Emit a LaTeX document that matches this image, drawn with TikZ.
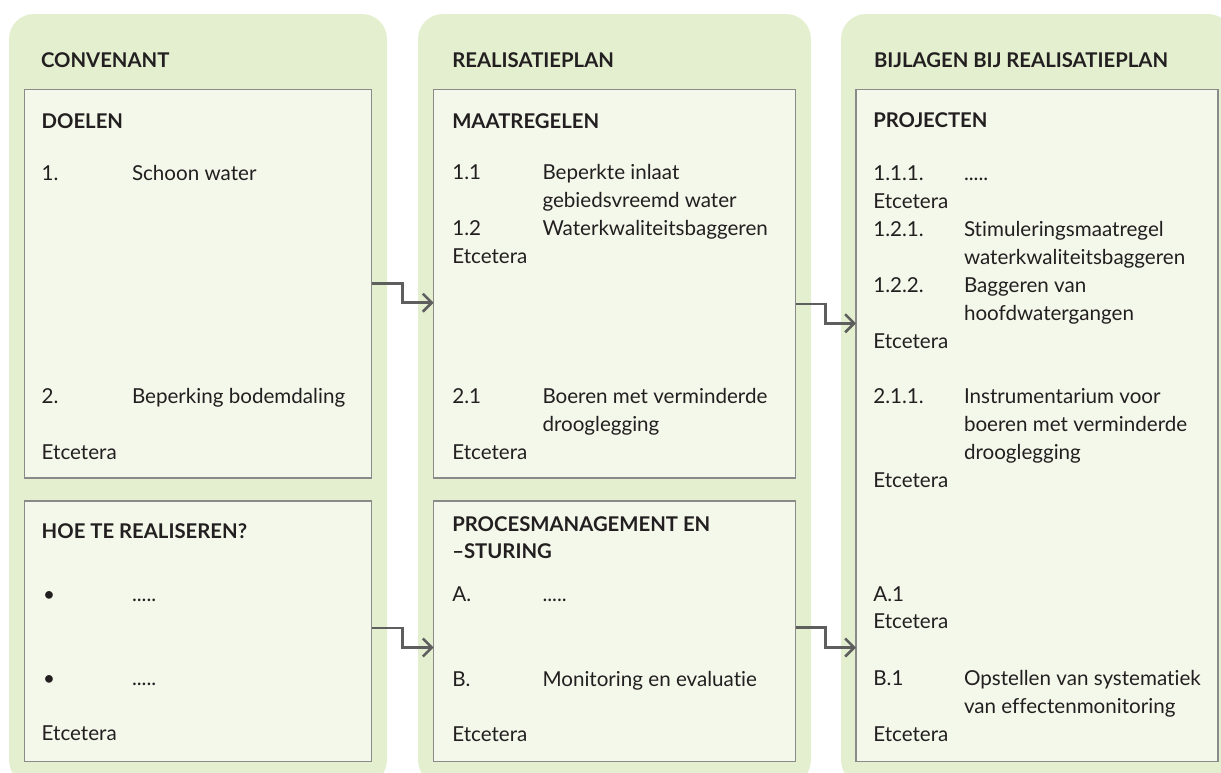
\documentclass[tikz,border=0pt]{standalone}
\usepackage{fontspec}
\setmainfont{Lato}[Ligatures={NoCommon,NoContextual}]
\usetikzlibrary{arrows.meta,calc}
\definecolor{colbg}{HTML}{E3EFCF}
\definecolor{boxbg}{HTML}{F3F8EA}
\definecolor{boxline}{HTML}{8A8A8A}
\definecolor{conncol}{HTML}{5E5E5E}
\definecolor{txtcol}{HTML}{231F20}
\begin{document}
\begin{tikzpicture}[x=1pt,y=-1pt,
  colbox/.style={fill=colbg, rounded corners=25pt, anchor=north west, inner sep=0pt, outer sep=0pt},
  inbox/.style={fill=boxbg, draw=boxline, line width=1.3pt, anchor=north west, inner sep=0pt, outer sep=0pt},
  tx/.style={anchor=base west, inner sep=0pt, outer sep=0pt, text=txtcol, font=\fontsize{20.6}{24}\selectfont},
  ttl/.style={tx, font=\fontsize{20.3}{24}\selectfont\bfseries},
  conn/.style={draw=conncol, line width=2.6pt, -{Straight Barb[length=9pt,width=18pt]}}]
\useasboundingbox (0,0) rectangle (1221,772);
\clip (0,0) rectangle (1221,772);
% columns
\node[colbox, minimum width=378pt, minimum height=771pt] (c1) at (9,14) {};
\node[colbox, minimum width=393pt, minimum height=771pt] (c2) at (418,14) {};
\node[colbox, minimum width=392pt, minimum height=771pt] (c3) at (841,14) {};
% inner boxes
\node[inbox, minimum width=347pt, minimum height=388.5pt] (b1) at (24.5,89.5) {};
\node[inbox, minimum width=347pt, minimum height=260.7pt] (b2) at (24.5,501) {};
\node[inbox, minimum width=362pt, minimum height=388.5pt] (b3) at (433.7,89.5) {};
\node[inbox, minimum width=362pt, minimum height=260.7pt] (b4) at (433.7,501) {};
\node[inbox, minimum width=362pt, minimum height=672.2pt] (b5) at (856,89.5) {};
% connectors
\draw[conn] ($(b1.north east)+(0,193.8)$) -- ++(31,0) |- ($(b3.north west)+(0,213.2)$);
\draw[conn] ($(b3.north east)+(0,214.5)$) -- ++(30,0) |- ($(b5.north west)+(0,233.8)$);
\draw[conn] ($(b2.north east)+(0,127)$) -- ++(31,0) |- ($(b4.north west)+(0,146.5)$);
\draw[conn] ($(b4.north east)+(0,126.7)$) -- ++(30,0) |- ($(b5.north west)+(0,558)$);
% column 1
\node[ttl] (h1) at (41,67) {CONVENANT};
\node[ttl] (d1) at (41.7,128) {DOELEN};
\node[tx] (n11) at (41.7,180) {1.};
\node[tx] (i11) at (132,180) {Schoon water};
\node[tx] (n12) at (41.7,403) {2.};
\node[tx] (i12) at (132,403) {Beperking bodemdaling};
\node[tx] (e11) at (41.7,459) {Etcetera};
\node[ttl] (d2) at (41.7,538) {HOE TE REALISEREN?};
\node[tx] (bu1) at (43,601) {•};
\node[tx] (do1) at (132,601) {.....};
\node[tx] (bu2) at (43,685) {•};
\node[tx] (do2) at (132,685) {.....};
\node[tx] (e12) at (41.7,740) {Etcetera};
% column 2
\node[ttl] (h2) at (452.3,67) {REALISATIEPLAN};
\node[ttl] (d3) at (452.3,128) {MAATREGELEN};
\node[tx] (n21) at (452.3,179) {1.1};
\node[tx] (i21) at (542.5,179) {Beperkte inlaat};
\node[tx] (i21b) at (542.5,207) {gebiedsvreemd water};
\node[tx] (n22) at (452.3,235) {1.2};
\node[tx] (i22) at (542.5,235) {Waterkwaliteitsbaggeren};
\node[tx] (e21) at (452.3,263) {Etcetera};
\node[tx] (n23) at (452.3,403) {2.1};
\node[tx] (i23) at (542.5,403) {Boeren met verminderde};
\node[tx] (i23b) at (542.5,431) {drooglegging};
\node[tx] (e22) at (452.3,459) {Etcetera};
\node[ttl] (d4) at (452.3,531) {PROCESMANAGEMENT EN};
\node[ttl] (d4b) at (452.3,558) {–STURING};
\node[tx] (n24) at (452.3,601) {A.};
\node[tx] (i24) at (542.5,601) {.....};
\node[tx] (n25) at (452.3,686) {B.};
\node[tx] (i25) at (542.5,686) {Monitoring en evaluatie};
\node[tx] (e23) at (452.3,741) {Etcetera};
% column 3
\node[ttl] (h3) at (874,67) {BIJLAGEN BIJ REALISATIEPLAN};
\node[ttl] (d5) at (873.3,127.5) {PROJECTEN};
\node[tx] (n31) at (873.3,180) {1.1.1.};
\node[tx] (i31) at (964,180) {.....};
\node[tx] (e31) at (873.3,208) {Etcetera};
\node[tx] (n32) at (873.3,236) {1.2.1.};
\node[tx] (i32) at (964,236) {Stimuleringsmaatregel};
\node[tx] (i32b) at (964,264) {waterkwaliteitsbaggeren};
\node[tx] (n33) at (873.3,292) {1.2.2.};
\node[tx] (i33) at (964,292) {Baggeren van};
\node[tx] (i33b) at (964,320) {hoofdwatergangen};
\node[tx] (e32) at (873.3,348) {Etcetera};
\node[tx] (n34) at (873.3,403) {2.1.1.};
\node[tx] (i34) at (964,403) {Instrumentarium voor};
\node[tx] (i34b) at (964,431) {boeren met verminderde};
\node[tx] (i34c) at (964,459) {drooglegging};
\node[tx] (e33) at (873.3,487) {Etcetera};
\node[tx] (n35) at (873.3,601) {A.1};
\node[tx] (e34) at (873.3,628.5) {Etcetera};
\node[tx] (n36) at (873.3,685) {B.1};
\node[tx] (i36) at (964,685) {Opstellen van systematiek};
\node[tx] (i36b) at (964,713) {van effectenmonitoring};
\node[tx] (e35) at (873.3,741) {Etcetera};
\end{tikzpicture}
\end{document}
